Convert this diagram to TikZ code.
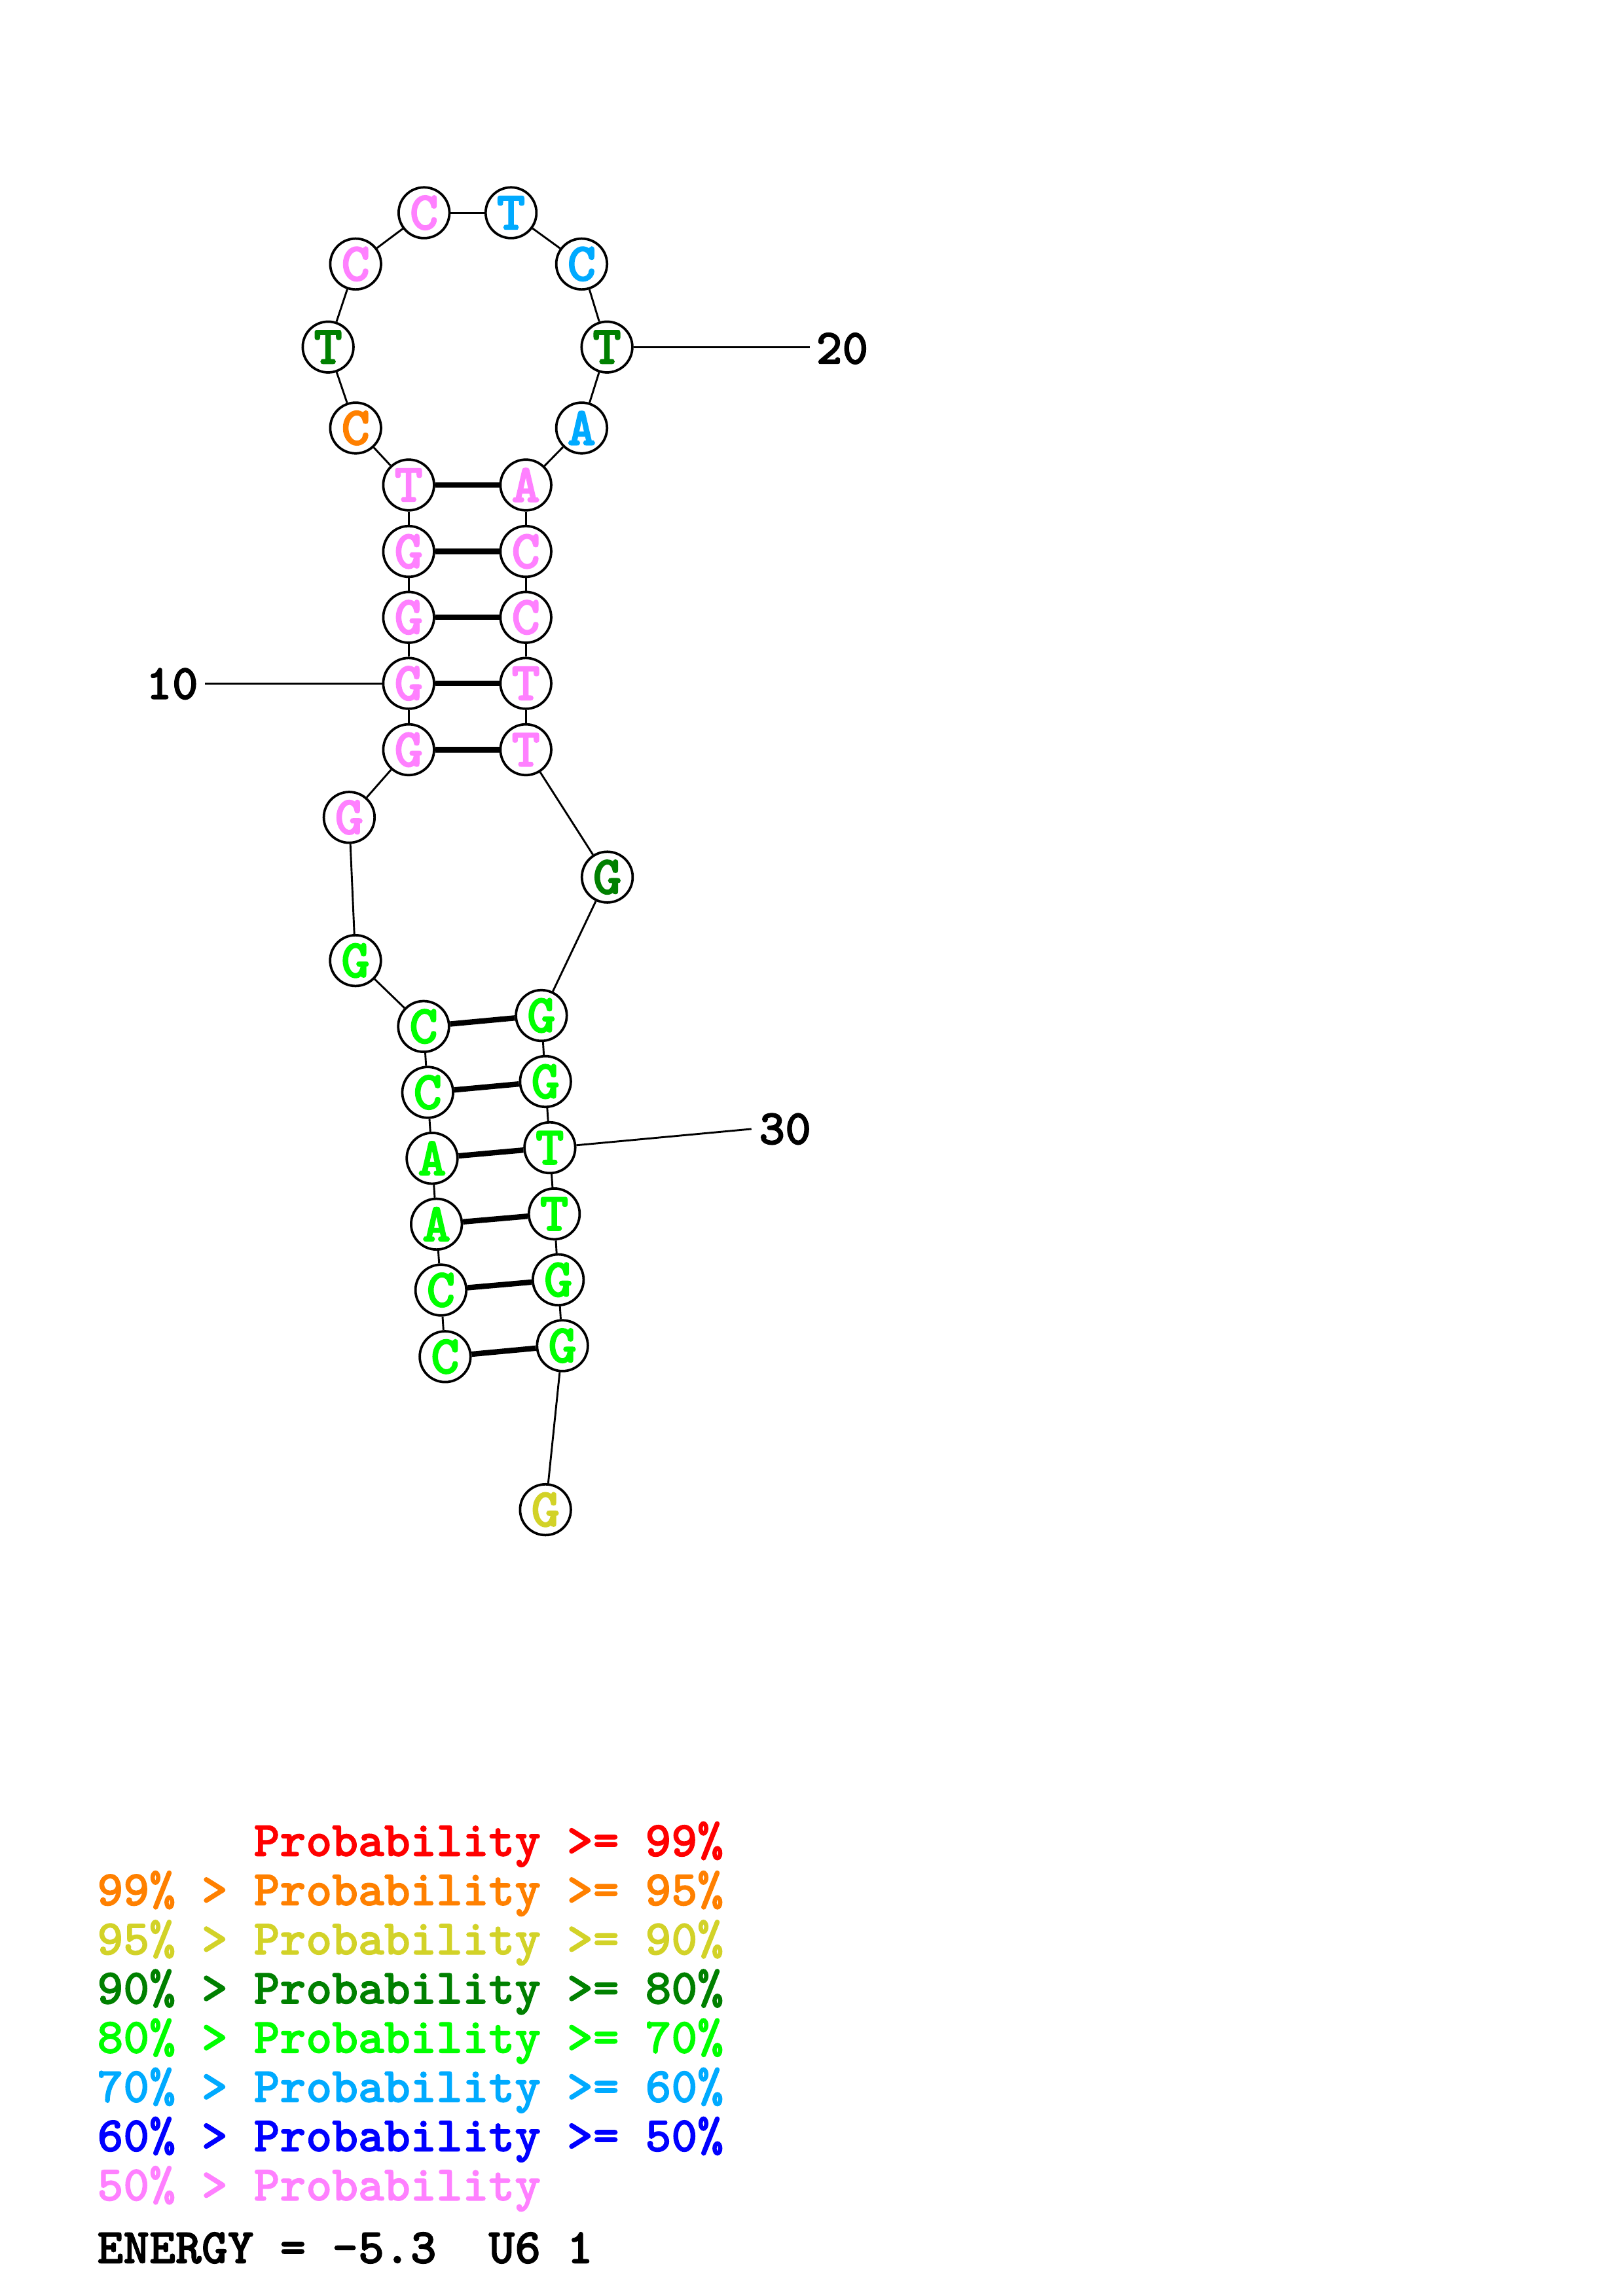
\documentclass[tikz,border=0pt]{standalone}
\usepackage{fontspec}
\newfontfamily\prfont{lmmonolt10-bold.otf}[FakeBold=1.5]
\newfontfamily\prbasefont{lmmonolt10-bold.otf}[FakeBold=2]
\definecolor{prred}{RGB}{255,0,0}
\definecolor{prorange}{RGB}{255,128,0}
\definecolor{pryellow}{RGB}{210,210,40}
\definecolor{prdkgreen}{RGB}{0,128,0}
\definecolor{prgreen}{RGB}{0,255,0}
\definecolor{prsky}{RGB}{0,170,255}
\definecolor{prblue}{RGB}{0,0,255}
\definecolor{prpink}{RGB}{255,128,255}
\begin{document}
\begin{tikzpicture}[x=0.18953mm,y=-0.18953mm]
        \tikzstyle{base}=[circle,draw=black,line width=0.9pt,fill=white,minimum size=18.7pt,inner sep=0pt,font=\prbasefont\fontsize{20}{20}\selectfont]
        \tikzstyle{bb}=[draw,line width=0.7pt]
        \tikzstyle{pair}=[draw,line width=2pt]
        \tikzstyle{num}=[inner sep=0pt,font=\prfont\fontsize{18.3}{18.3}\selectfont]
        \tikzstyle{legend}=[anchor=base west,inner sep=0pt,font=\prfont\fontsize{18.3}{18.3}\selectfont]
        \useasboundingbox (0,0) rectangle (1108,1568);
       \begin{scope}
         \node [base,text=prgreen] (n1) at (303.9,926.5) {C};
         \node [base,text=prgreen] (n2) at (301,881) {C};
         \node [base,text=prgreen] (n3) at (298,836) {A};
         \node [base,text=prgreen] (n4) at (295,791) {A};
         \node [base,text=prgreen] (n5) at (292,746) {C};
         \node [base,text=prgreen] (n6) at (289.2,701) {C};
         \node [base,text=prgreen] (n7) at (242.7,656) {G};
         \node [base,text=prpink] (n8) at (238.4,558.2) {G};
         \node [base,text=prpink] (n9) at (279,512) {G};
         \node [base,text=prpink] (n10) at (279,466.7) {G};
         \node [base,text=prpink] (n11) at (279,421.6) {G};
         \node [base,text=prpink] (n12) at (279,376.6) {G};
         \node [base,text=prpink] (n13) at (279,331.2) {T};
         \node [base,text=prorange] (n14) at (242.8,292.3) {C};
         \node [base,text=prdkgreen] (n15) at (224,237) {T};
         \node [base,text=prpink] (n16) at (242.8,180.3) {C};
         \node [base,text=prpink] (n17) at (289.5,145.3) {C};
         \node [base,text=prsky] (n18) at (348.9,145.3) {T};
         \node [base,text=prsky] (n19) at (397.1,180.3) {C};
         \node [base,text=prdkgreen] (n20) at (414.4,237) {T};
         \node [base,text=prsky] (n21) at (397.1,292.3) {A};
         \node [base,text=prpink] (n22) at (359,331.2) {A};
         \node [base,text=prpink] (n23) at (359,376.6) {C};
         \node [base,text=prpink] (n24) at (359,421.6) {C};
         \node [base,text=prpink] (n25) at (359,466.7) {T};
         \node [base,text=prpink] (n26) at (359,512) {T};
         \node [base,text=prdkgreen] (n27) at (414.6,599) {G};
         \node [base,text=prgreen] (n28) at (369.6,693.5) {G};
         \node [base,text=prgreen] (n29) at (372.4,738.6) {G};
         \node [base,text=prgreen] (n30) at (375.4,783.8) {T};
         \node [base,text=prgreen] (n31) at (378.4,829) {T};
         \node [base,text=prgreen] (n32) at (381.1,874) {G};
         \node [base,text=prgreen] (n33) at (384,919) {G};
         \node [base,text=pryellow] (n34) at (372.4,1031) {G};
         \foreach \a in {1,...,33} {
           \pgfmathtruncatemacro{\b}{\a+1}
           \path[bb] (n\a) -- (n\b);
         }
         \path[pair] (n13) -- (n22);
         \path[pair] (n12) -- (n23);
         \path[pair] (n11) -- (n24);
         \path[pair] (n10) -- (n25);
         \path[pair] (n9) -- (n26);
         \path[pair] (n6) -- (n28);
         \path[pair] (n5) -- (n29);
         \path[pair] (n4) -- (n30);
         \path[pair] (n3) -- (n31);
         \path[pair] (n2) -- (n32);
         \path[pair] (n1) -- (n33);
         % position ticks
         \node [num] (l10) at (117.5,467) {10};
         \coordinate (t10) at (140,466.7);
         \path[bb] (t10) -- (n10);
         \node [num] (l20) at (575,238) {20};
         \coordinate (t20) at (553,237);
         \path[bb] (n20) -- (t20);
         \node [num] (l30) at (536,771) {30};
         \coordinate (t30) at (513,771);
         \path[bb] (n30) -- (t30);
        \end{scope}
        % legend
        \node [legend,text=prred] (p1) at (66,1267.5) {\phantom{99\% > }Probability >= 99\%};
        \node [legend,text=prorange] (p2) at (66,1301.1) {99\% > Probability >= 95\%};
        \node [legend,text=pryellow] (p3) at (66,1334.7) {95\% > Probability >= 90\%};
        \node [legend,text=prdkgreen] (p4) at (66,1368.3) {90\% > Probability >= 80\%};
        \node [legend,text=prgreen] (p5) at (66,1401.9) {80\% > Probability >= 70\%};
        \node [legend,text=prsky] (p6) at (66,1435.5) {70\% > Probability >= 60\%};
        \node [legend,text=prblue] (p7) at (66,1469.1) {60\% > Probability >= 50\%};
        \node [legend,text=prpink] (p8) at (66,1502.7) {50\% > Probability};
        \node [legend] (energy) at (66,1545.5) {ENERGY = -5.3~~U6 1};
      \end{tikzpicture}
\end{document}
